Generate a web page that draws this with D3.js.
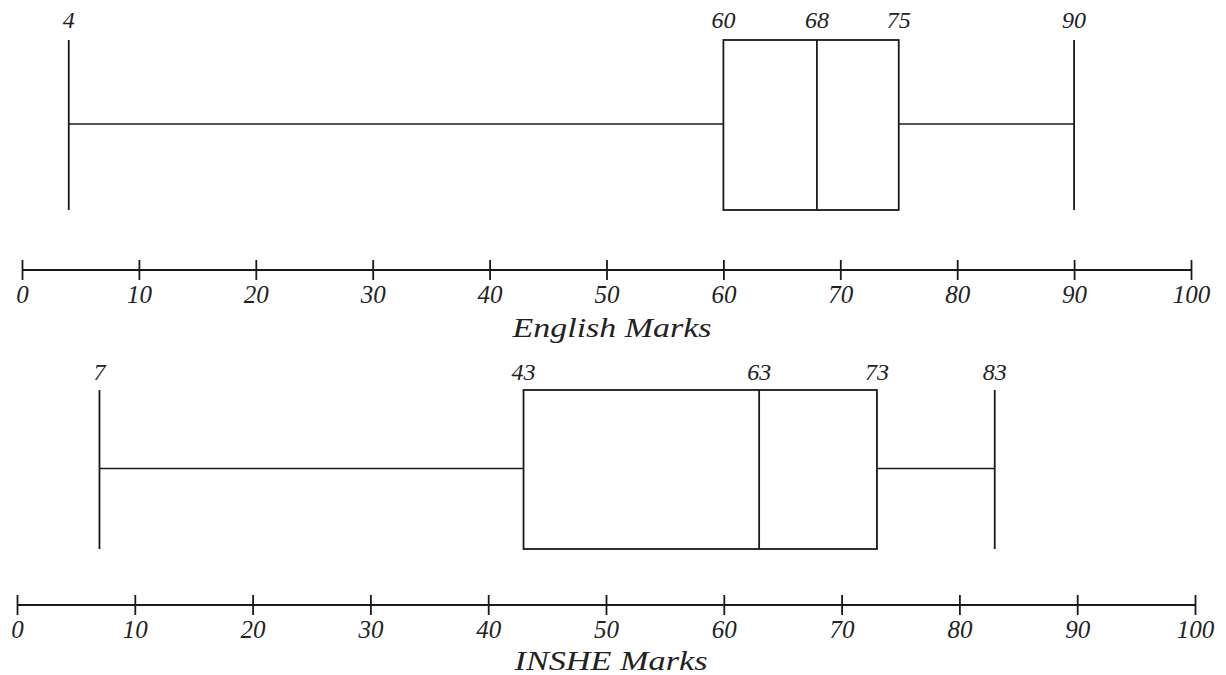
<!DOCTYPE html>
<html>
<head>
<meta charset="utf-8">
<script src="https://cdn.jsdelivr.net/npm/d3@7"></script>
<style>
  body { margin: 0; background: #fff; }
  svg text { font-family: "Liberation Serif", "DejaVu Serif", serif; font-style: italic; fill: #222; }
</style>
</head>
<body>
<svg id="chart"></svg>
<script>
// five-number summaries
const subjects = ["English Marks", "INSHE Marks"];
const englishStats = [4, 60, 68, 75, 90];
const insheStats = [7, 43, 63, 73, 83];
const tickValues = [0, 10, 20, 30, 40, 50, 60, 70, 80, 90, 100];

const width = 1226, height = 675;
const svg = d3.select("#chart").attr("width", width).attr("height", height);

// layout of each panel
const panels = [
    { name: subjects[0], stats: englishStats, x0: 22, x1: 1191, boxTop: 40, boxBottom: 210, axisY: 270, labelY: 28, titleY: 337, titleX: 612, titleW: 199 },
    { name: subjects[1], stats: insheStats, x0: 17, x1: 1195, boxTop: 390, boxBottom: 549, axisY: 605, labelY: 380, titleY: 670, titleX: 611, titleW: 193 }
];

const stroke = "#1a1a1a";

panels.forEach(p => {
    const x = d3.scaleLinear().domain([0, 100]).range([p.x0, p.x1]);
    const g = svg.append("g");
    const [mn, q1, med, q3, mx] = p.stats;
    const midY = (p.boxTop + p.boxBottom) / 2 - 1;

    // whiskers
    g.append("line")
        .attr("x1", x(mn)).attr("x2", x(q1))
        .attr("y1", midY).attr("y2", midY)
        .attr("stroke", stroke).attr("stroke-width", 1.6);
    g.append("line")
        .attr("x1", x(q3)).attr("x2", x(mx))
        .attr("y1", midY).attr("y2", midY)
        .attr("stroke", stroke).attr("stroke-width", 1.6);

    // end caps
    g.selectAll("line.cap")
        .data([mn, mx])
        .enter()
        .append("line")
        .attr("class", "cap")
        .attr("x1", d => x(d)).attr("x2", d => x(d))
        .attr("y1", p.boxTop).attr("y2", p.boxBottom)
        .attr("stroke", stroke).attr("stroke-width", 1.8);

    // box
    g.append("rect")
        .attr("x", x(q1)).attr("y", p.boxTop)
        .attr("width", x(q3) - x(q1))
        .attr("height", p.boxBottom - p.boxTop)
        .attr("fill", "none")
        .attr("stroke", stroke).attr("stroke-width", 1.8);

    // median
    g.append("line")
        .attr("x1", x(med)).attr("x2", x(med))
        .attr("y1", p.boxTop).attr("y2", p.boxBottom)
        .attr("stroke", stroke).attr("stroke-width", 1.8);

    // value labels
    g.selectAll("text.val")
        .data(p.stats)
        .enter()
        .append("text")
        .attr("class", "val")
        .attr("x", d => x(d))
        .attr("y", p.labelY)
        .attr("text-anchor", "middle")
        .attr("font-size", "24px")
        .text(d => d);

    // axis with ticks crossing the line
    const axis = d3.axisBottom(x).tickValues(tickValues).tickSize(10);
    const ag = svg.append("g")
        .attr("transform", `translate(0, ${p.axisY})`)
        .call(axis);
    ag.select(".domain").attr("d", `M${p.x0},0H${p.x1}`).attr("stroke", stroke).attr("stroke-width", 1.8);
    ag.selectAll(".tick line").attr("y1", -10).attr("y2", 10).attr("stroke", stroke).attr("stroke-width", 1.8);
    ag.selectAll(".tick text")
        .attr("y", 33)
        .attr("dy", null)
        .attr("font-size", "25px")
        .attr("font-family", null)
        .attr("fill", "#222");

    svg.append("text")
        .attr("x", p.titleX)
        .attr("y", p.titleY)
        .attr("text-anchor", "middle")
        .attr("font-size", "28px")
        .attr("textLength", p.titleW)
        .attr("lengthAdjust", "spacingAndGlyphs")
        .text(p.name);
});
</script>
</body>
</html>
